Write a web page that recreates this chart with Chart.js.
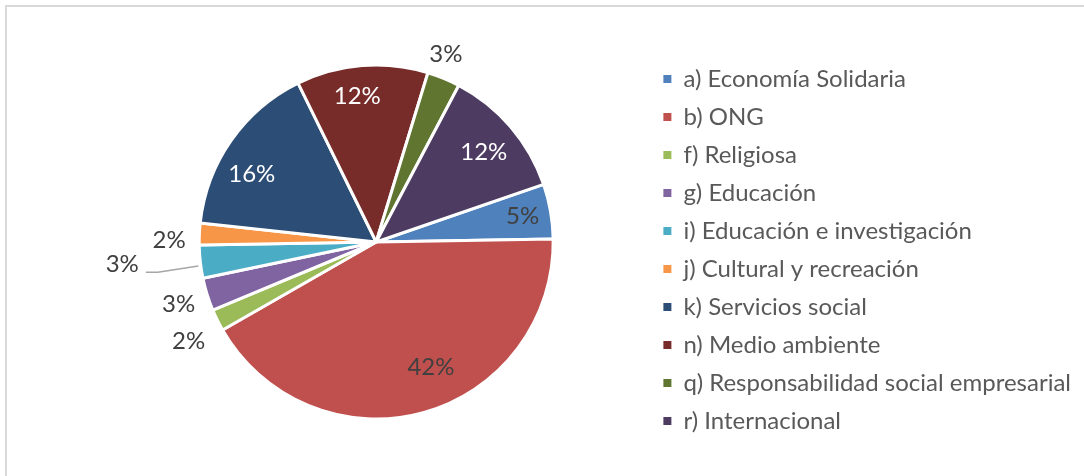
<!DOCTYPE html>
<html>
<head>
<meta charset="utf-8">
<script src="https://cdn.jsdelivr.net/npm/chart.js@4"></script>
<style>
  html, body { margin: 0; padding: 0; background: #fff; overflow: hidden; }
  #wrap { position: relative; width: 1084px; height: 476px; }
  #frame { position: absolute; left: 5px; top: 5px; width: 1200px; height: 600px;
           border: 2px solid #d9d9d9; box-sizing: border-box; }
  #chart { position: absolute; left: 0; top: 0; }
</style>
</head>
<body>
<div id="wrap">
  <div id="frame"></div>
  <canvas id="chart" width="1084" height="476"></canvas>
</div>
<script>
const categorias = [
  'a) Economía Solidaria',
  'b) ONG',
  'f) Religiosa',
  'g) Educación',
  'i) Educación e investigación',
  'j) Cultural y recreación',
  'k) Servicios social',
  'n) Medio ambiente',
  'q) Responsabilidad social empresarial',
  'r) Internacional'
];
const porcentajes = [5, 42, 2, 3, 3, 2, 16, 12, 3, 12];
const colores = ['#4F81BD', '#C0504D', '#9BBB59', '#8064A2', '#4BACC6',
                 '#F79646', '#2C4D75', '#772C2A', '#5F7530', '#4D3B62'];

// posicion de cada etiqueta: distancia (fraccion del radio) y giro en grados
const etiquetaDist = [0.84, 0.77, 1.20, 1.17, 1.44, 1.17, 0.80, 0.83, 1.13, 0.79];
const etiquetaGiro = [0, -8.3, -1.8, -0.2, 1.4, -2.2, -6.5, -2.8, -2, 0.9];
const etiquetaColor = ['#404040', '#404040', '#404040', '#404040', '#404040',
                       '#404040', '#ffffff', '#ffffff', '#404040', '#ffffff'];
const conGuia = [false, false, false, false, true, false, false, false, false, false];

const etiquetas = {
  id: 'etiquetas',
  afterDatasetsDraw(chart) {
    const ctx = chart.ctx;
    const meta = chart.getDatasetMeta(0);
    ctx.save();
    ctx.font = '24px Lato';
    ctx.textAlign = 'center';
    ctx.textBaseline = 'middle';
    meta.data.forEach((arc, i) => {
      const p = arc.getProps(['x', 'y', 'startAngle', 'endAngle', 'outerRadius']);
      const ang = (p.startAngle + p.endAngle) / 2 + etiquetaGiro[i] * Math.PI / 180;
      const r = p.outerRadius * etiquetaDist[i];
      const x = p.x + Math.cos(ang) * r;
      const y = p.y + Math.sin(ang) * r;
      const texto = porcentajes[i] + '%';
      if (conGuia[i]) {
        const mid = (p.startAngle + p.endAngle) / 2;
        const w = ctx.measureText(texto).width;
        const x0 = x + w / 2 + 7;
        const y0 = y + 8;
        ctx.strokeStyle = '#a6a6a6';
        ctx.lineWidth = 1.5;
        ctx.beginPath();
        ctx.moveTo(x0, y0);
        ctx.lineTo(x0 + 12, y0);
        ctx.lineTo(p.x + Math.cos(mid) * (p.outerRadius + 2), p.y + Math.sin(mid) * (p.outerRadius + 2) + 4);
        ctx.stroke();
      }
      ctx.fillStyle = etiquetaColor[i];
      ctx.fillText(texto, x, y);
    });
    ctx.restore();
  }
};

// cuadritos de la leyenda sin el borde blanco de las porciones
const generarEtiquetas = Chart.overrides.pie.plugins.legend.labels.generateLabels;

new Chart(document.getElementById('chart'), {
  type: 'pie',
  data: {
    labels: categorias,
    datasets: [{
      data: porcentajes,
      backgroundColor: colores,
      borderColor: '#ffffff',
      borderWidth: 3
    }]
  },
  options: {
    responsive: false,
    animation: false,
    rotation: 71,
    radius: 177,
    layout: { padding: { left: 103, right: 3, top: 12, bottom: 4 } },
    plugins: {
      tooltip: { enabled: false },
      legend: {
        position: 'right',
        title: { display: true, text: '', padding: 2, font: { size: 10 } },
        labels: {
          boxWidth: 8,
          boxHeight: 8,
          padding: 14,
          color: '#595959',
          font: { family: 'Lato', size: 24 },
          generateLabels(chart) {
            return generarEtiquetas(chart).map(item => Object.assign(item, { lineWidth: 0 }));
          }
        }
      }
    }
  },
  plugins: [etiquetas]
});
</script>
</body>
</html>
